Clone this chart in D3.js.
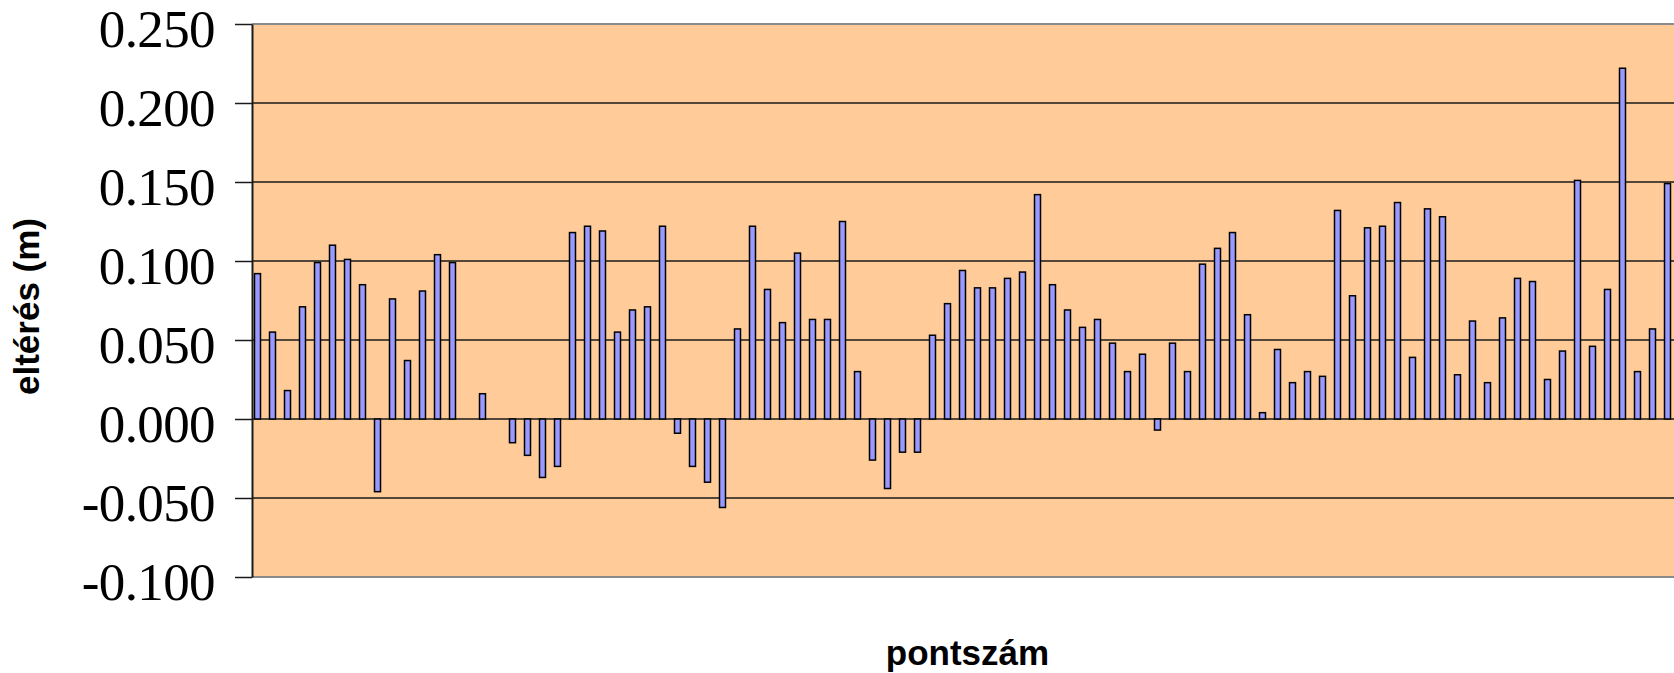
<!DOCTYPE html>
<html>
<head>
<meta charset="utf-8">
<script src="https://cdn.jsdelivr.net/npm/d3@7"></script>
<style>
  html, body { margin: 0; padding: 0; background: #ffffff; }
  svg { display: block; }
</style>
</head>
<body>
<svg id="chart" width="1674" height="673"></svg>
<script>
// Deviation per surveyed point (m); null = no measurement at that point
const values = [
  0.092, 0.055, 0.018, 0.071, 0.099, 0.110, 0.101, 0.085, -0.046, 0.076,
  0.037, 0.081, 0.104, 0.099, null, 0.016, null, -0.015, -0.023, -0.037,
  -0.030, 0.118, 0.122, 0.119, 0.055, 0.069, 0.071, 0.122, -0.009, -0.030,
  -0.040, -0.056, 0.057, 0.122, 0.082, 0.061, 0.105, 0.063, 0.063, 0.125,
  0.030, -0.026, -0.044, -0.021, -0.021, 0.053, 0.073, 0.094, 0.083, 0.083,
  0.089, 0.093, 0.142, 0.085, 0.069, 0.058, 0.063, 0.048, 0.030, 0.041,
  -0.007, 0.048, 0.030, 0.098, 0.108, 0.118, 0.066, 0.004, 0.044, 0.023,
  0.030, 0.027, 0.132, 0.078, 0.121, 0.122, 0.137, 0.039, 0.133, 0.128,
  0.028, 0.062, 0.023, 0.064, 0.089, 0.087, 0.025, 0.043, 0.151, 0.046,
  0.082, 0.222, 0.030, 0.057, 0.149
];

// Point numbers (category axis, not labelled)
const points = values.map((_, i) => i + 1);

// Value axis ticks and their labels
const tickValues = [0.25, 0.2, 0.15, 0.1, 0.05, 0, -0.05, -0.1];
const tickLabels = ["0.250", "0.200", "0.150", "0.100", "0.050", "0.000", "-0.050", "-0.100"];

const yTitle = "eltérés (m)";
const xTitle = "pontszám";

const svg = d3.select("#chart");

const plot = { left: 252, right: 1675, top: 24, bottom: 577 };

const x = d3.scaleBand()
  .domain(points)
  .range([plot.left - 2, plot.right])
  .padding(0);

const y = d3.scaleLinear()
  .domain([-0.1, 0.25])
  .range([plot.bottom, plot.top]);

// Plot area background
svg.append("rect")
  .attr("x", plot.left)
  .attr("y", plot.top)
  .attr("width", plot.right - plot.left)
  .attr("height", plot.bottom - plot.top)
  .attr("fill", "#FFCC99");

// Horizontal gridlines; the outer two form the plot border
svg.append("g")
  .selectAll("line")
  .data(tickValues)
  .join("line")
  .attr("x1", plot.left)
  .attr("x2", plot.right)
  .attr("y1", d => y(d))
  .attr("y2", d => y(d))
  .attr("stroke", d => (d === 0.25 || d === -0.1) ? "#8a8a8a" : "#1a1a1a")
  .attr("stroke-width", d => (d === 0.25 || d === -0.1) ? 2 : 1.5);

// Bars
svg.append("clipPath").attr("id", "plotClip")
  .append("rect")
  .attr("x", plot.left)
  .attr("y", plot.top - 2)
  .attr("width", plot.right - plot.left)
  .attr("height", plot.bottom - plot.top + 4);

const bw = x.bandwidth();
svg.append("g")
  .attr("clip-path", "url(#plotClip)")
  .selectAll("rect")
  .data(points.map((p, i) => ({ p, v: values[i] })).filter(d => d.v !== null))
  .join("rect")
  .attr("x", d => x(d.p) + bw * 0.3)
  .attr("width", bw * 0.4)
  .attr("y", d => y(Math.max(0, d.v)))
  .attr("height", d => Math.abs(y(d.v) - y(0)))
  .attr("fill", "#9999FF")
  .attr("stroke", "#000000")
  .attr("stroke-width", 1.5);

// Value axis
const yAxis = d3.axisLeft(y)
  .tickValues(tickValues)
  .tickFormat((d, i) => tickLabels[i])
  .tickSize(17)
  .tickSizeOuter(0)
  .tickPadding(20);

const gy = svg.append("g")
  .attr("transform", `translate(${plot.left},0)`)
  .call(yAxis);

gy.select(".domain")
  .attr("stroke", "#1a1a1a")
  .attr("stroke-width", 2);
gy.selectAll(".tick line")
  .attr("stroke", "#1a1a1a")
  .attr("stroke-width", 1.5);
gy.selectAll(".tick text")
  .attr("font-family", "'Liberation Serif', 'Times New Roman', serif")
  .attr("font-size", 53)
  .attr("letter-spacing", "-0.6px")
  .attr("fill", "#000")
  .attr("dy", "0.43em");

// Axis titles
svg.append("text")
  .attr("transform", `translate(39,${(plot.top + plot.bottom) / 2 + 6}) rotate(-90)`)
  .attr("text-anchor", "middle")
  .attr("font-family", "'Liberation Sans', Arial, sans-serif")
  .attr("font-weight", "bold")
  .attr("font-size", 35)
  .attr("fill", "#000")
  .text(yTitle);

svg.append("text")
  .attr("x", (plot.left + plot.right) / 2 + 4)
  .attr("y", 665)
  .attr("text-anchor", "middle")
  .attr("font-family", "'Liberation Sans', Arial, sans-serif")
  .attr("font-weight", "bold")
  .attr("font-size", 35)
  .attr("fill", "#000")
  .text(xTitle);
</script>
</body>
</html>
